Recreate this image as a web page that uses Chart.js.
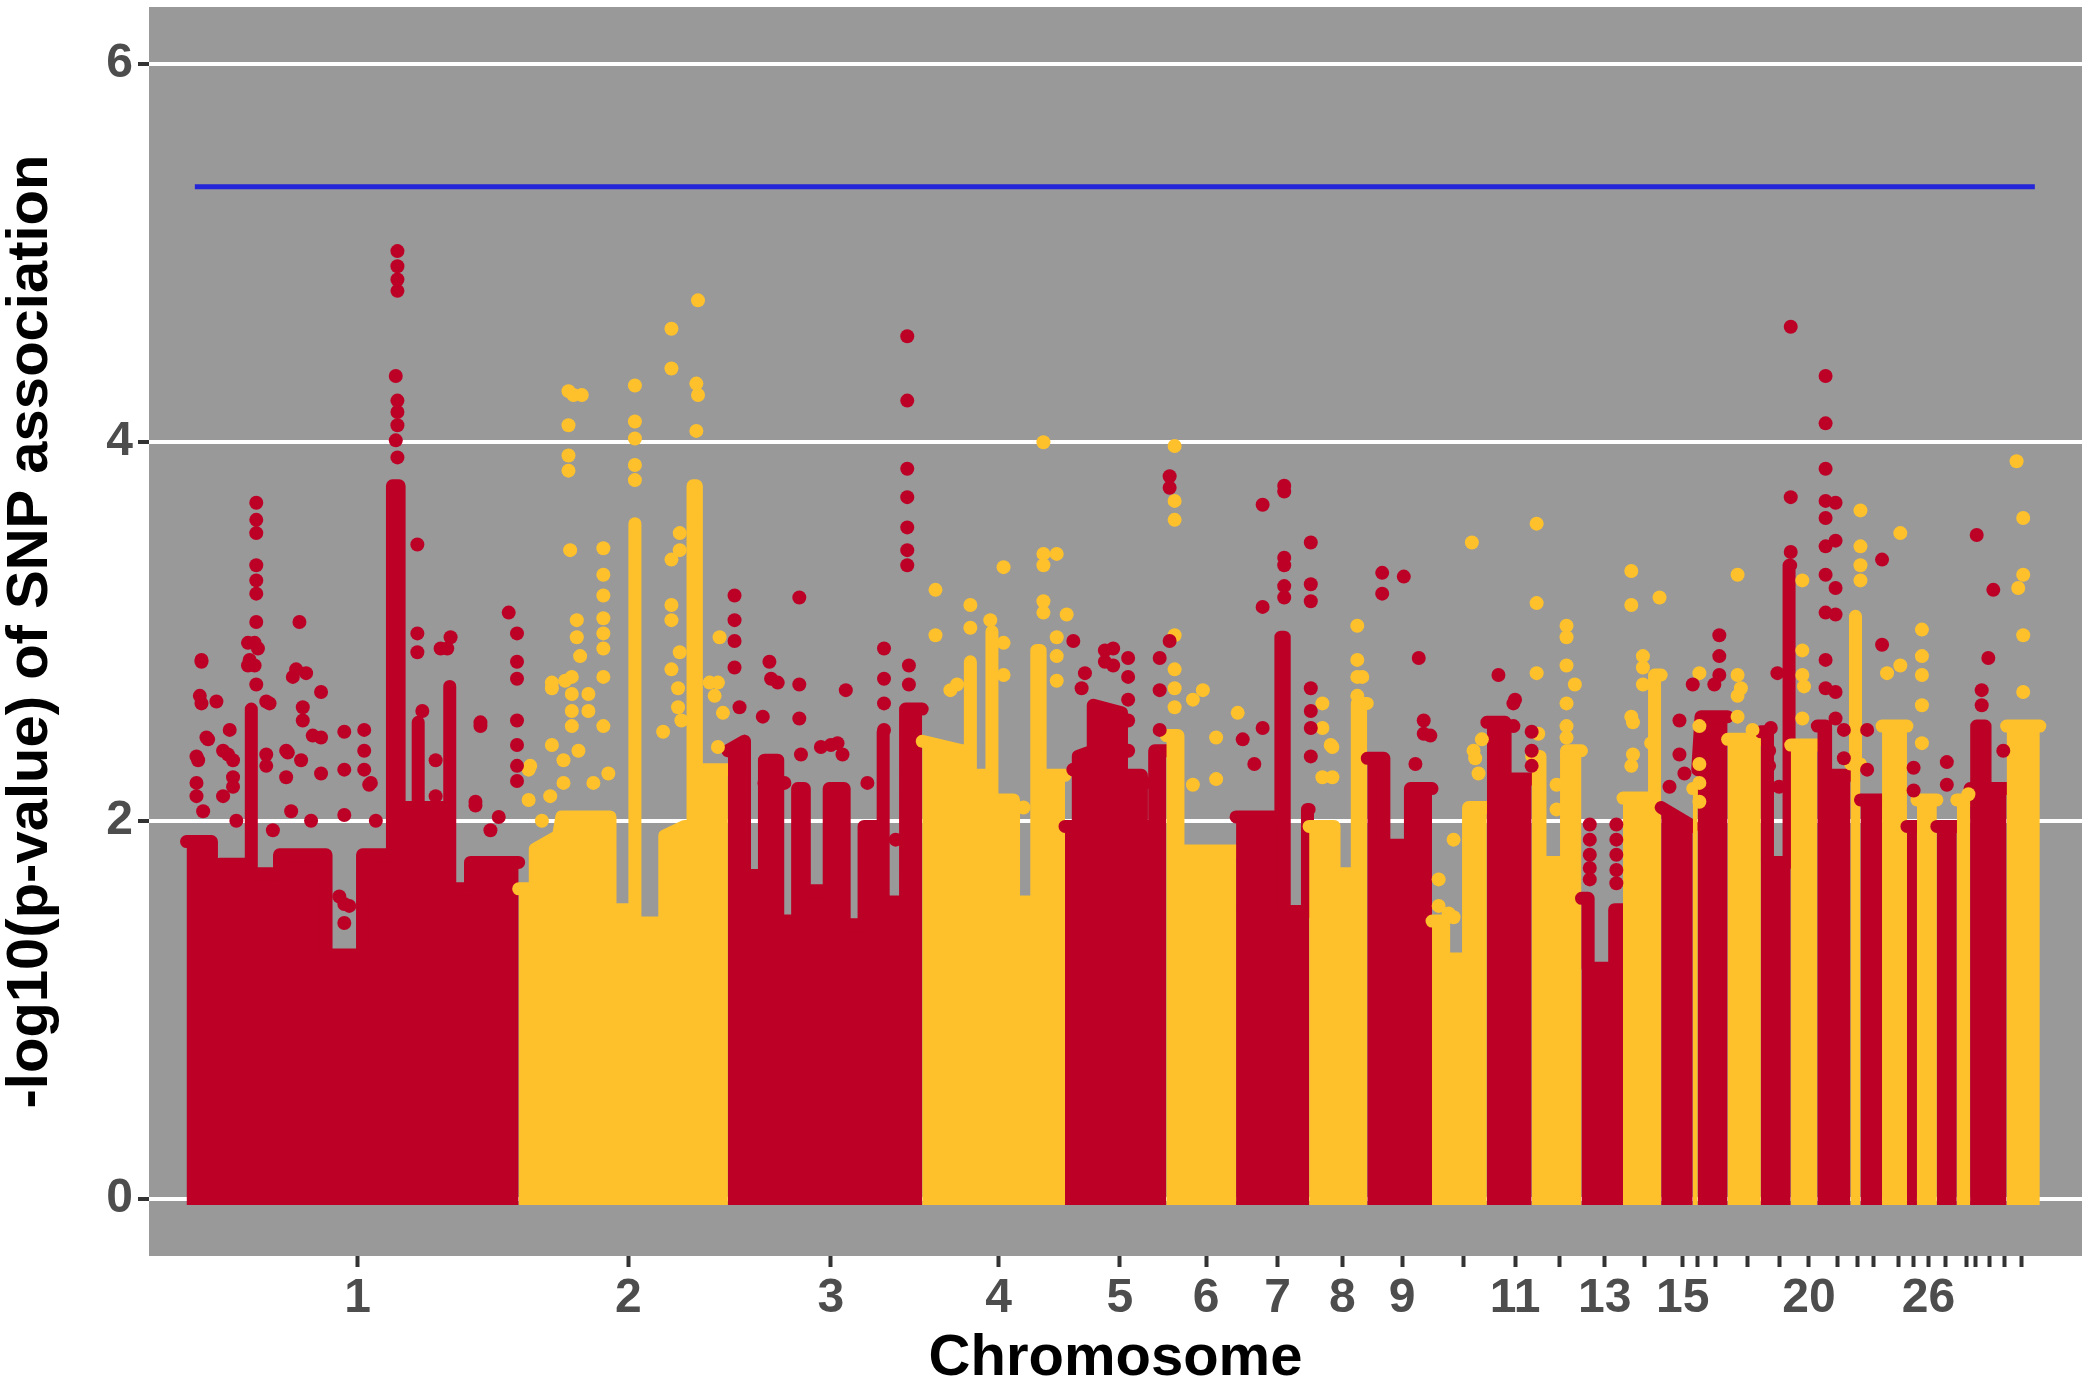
<!DOCTYPE html>
<html>
<head>
<meta charset="utf-8">
<script src="https://cdn.jsdelivr.net/npm/chart.js@4/dist/chart.umd.min.js"></script>
<style>
  html, body { margin: 0; padding: 0; background: #fff; }
  canvas { display: block; }
</style>
</head>
<body>
<canvas id="manhattan" width="2089" height="1386"></canvas>
<script>
// Manhattan plot, -log10(p) per SNP along the genome (x in cumulative Mb)

const RED = '#BD0026';
const YELLOW = '#FEC12C';
const PANEL_BG = '#999999';
const TICK_TEXT = '#4d4d4d';
const FONT = "'Liberation Sans', Arial, Helvetica, sans-serif";

const xRange = [-22.6, 1141.4];
const yRange = [-0.3, 6.3];
const yTicks = [0, 2, 4, 6];

// chromosome ticks (centres) and the labels that are printed
const tickPositions = [103, 266, 388, 489, 562, 614, 657, 696, 732, 769, 800, 827, 854, 878, 901, 910,
  921, 940, 959, 977, 994, 1006, 1016, 1031, 1040, 1049, 1059, 1072, 1077, 1086, 1095, 1105];
const tickLabels = ['1', '2', '3', '4', '5', '6', '7', '8', '9', '', '11', '', '13', '', '15', '',
  '', '', '', '20', '', '', '', '', '', '26', '', '', '', '', '', ''];

// genome-wide significance line
const threshold = 5.35;
const thresholdSpan = [5, 1113];

// top of the dense SNP cloud for each chromosome block (dot centres), [position, -log10 p]
const denseTop = [
  [[0,1.89],[15,1.89],[15,1.64],[20,1.64],[20,1.77],[39,1.77],[39,2.59],[39,1.72],[56,1.72],[56,1.82],[84,1.82],[84,1.29],[106,1.29],[106,1.82],[124,1.82],[124,3.77],[128,3.77],[128,2.07],[139.5,2.07],[139.5,2.52],[139.5,2.07],[158.5,2.07],[158.5,2.71],[158.5,1.64],[171,1.64],[171,1.78],[200,1.78]],
  [[200,1.64],[210,1.64],[210,1.85],[224,1.92],[226,2.02],[255,2.02],[255,1.53],[270,1.53],[270,3.57],[270,1.46],[288,1.46],[288,1.92],[300,1.97],[305,1.97],[305,3.77],[307,3.77],[307,2.27],[326,2.27]],
  [[326,2.37],[336,2.42],[336,1.71],[348,1.71],[348,2.32],[356,2.32],[356,1.47],[368,1.47],[368,2.17],[372,2.17],[372,1.63],[387,1.63],[387,2.17],[396,2.17],[396,1.45],[408,1.45],[408,1.97],[419.5,1.97],[419.5,2.47],[419.5,1.57],[433,1.57],[433,2.59],[443,2.59]],
  [[443,2.42],[467,2.37],[472,2.37],[472,2.84],[472,2.24],[485,2.24],[485,3.0],[485,2.11],[498,2.11],[498,1.57],[512,1.57],[512,2.9],[514,2.9],[514,2.24],[529,2.24]],
  [[529,1.97],[537,1.97],[537,2.34],[546,2.37],[546,2.61],[563,2.57],[563,2.24],[575,2.24],[575,1.97],[583,1.97],[583,2.37],[590,2.37]],
  [[590,2.45],[597,2.45],[597,1.84],[632,1.84]],
  [[632,2.02],[659,2.02],[659,2.97],[661,2.97],[661,1.52],[675,1.52],[675,2.06],[676,2.06]],
  [[676,1.97],[691,1.97],[691,1.72],[705,1.72],[705,2.62],[711,2.62]],
  [[711,2.33],[721,2.33],[721,1.87],[737,1.87],[737,2.17],[750,2.17]],
  [[750,1.47],[757,1.47],[757,1.27],[772,1.27],[772,2.07],[783,2.07]],
  [[783,2.52],[794,2.52],[794,2.22],[810,2.22]],
  [[810,2.34],[815,2.34],[815,1.78],[831,1.78],[831,2.37],[840,2.37]],
  [[840,1.59],[844,1.59],[844,1.22],[860,1.22],[860,1.53],[865,1.53]],
  [[865,2.12],[884,2.12],[884,2.77],[888,2.77]],
  [[888,2.07],[907,1.97]],
  [[907,2.17],[910,2.17]],
  [[910,2.27],[912,2.55],[928,2.55]],
  [[928,2.43],[948,2.43]],
  [[948,2.47],[952,2.47],[952,1.78],[965,1.78],[965,3.35],[966,3.35]],
  [[966,2.4],[982,2.4]],
  [[982,2.5],[987,2.5],[987,2.24],[1002,2.24]],
  [[1002,2.3],[1005,2.3],[1005,3.08],[1005,2.3],[1008,2.3]],
  [[1008,2.11],[1021,2.11]],
  [[1021,2.5],[1036,2.5]],
  [[1036,1.97],[1042,1.97]],
  [[1042,2.11],[1054,2.11]],
  [[1054,1.97],[1066,1.97]],
  [[1066,2.11],[1074,2.11]],
  [[1074,2.17],[1078,2.17],[1078,2.5],[1083,2.5],[1083,2.17],[1096,2.17]],
  [[1096,2.5],[1116,2.5]],
];

// single SNPs standing out above the cloud
const redHits = [
  [127,5.01],[127,4.93],[127,4.86],[127,4.80],[126,4.35],[127,4.22],[127,4.16],[127,4.09],[126,4.01],[127,3.92],
  [42,3.68],[42,3.59],[42,3.52],[42,3.35],[42,3.27],[42,3.2],[42,3.05],[41,2.94],[43,2.91],[41,2.82],[42,2.72],
  [9,2.84],[8,2.66],[9,2.62],[18,2.63],[13,2.43],[7,2.32],[26,2.48],[25,2.35],[37,2.94],[37,2.82],[50,2.62],[48,2.35],
  [68,3.05],[64,2.76],[72,2.78],[70,2.6],[70,2.53],[81,2.68],[76,2.45],[61,2.36],
  [95,2.47],[95,2.27],[95,2.03],[107,2.48],[107,2.37],[107,2.27],[110,2.19],[92,1.6],[98,1.55],
  [139,3.46],[139,2.99],[139,2.89],[153,2.91],[159,2.97],[157,2.91],
  [177,2.5],[174,2.08],[194,3.1],[199,2.99],[199,2.84],[199,2.75],[199,2.53],[199,2.4],[199,2.29],[199,2.21],
  [9,2.85],[12,2.44],[6,2.34],[6,2.2],[6,2.13],[22,2.37],[22,2.13],[28,2.32],[28,2.23],[28,2.18],[38,2.85],
  [48,2.63],[48,2.29],[60,2.37],[60,2.23],[66,2.8],[69,2.32],[81,2.44],[81,2.25],[95,1.56],[95,1.46],[111,2.2],
  [150,2.32],[150,2.13],[174,2.1],[177,2.52],[142,2.58],[10,2.05],[30,2.0],[52,1.95],[63,2.05],[75,2.0],
  [114,2.0],[183,1.95],[188,2.02],
  [434,4.56],[434,4.22],[434,3.86],[434,3.71],[434,3.55],[434,3.43],[434,3.35],
  [330,3.19],[330,3.06],[330,2.95],[330,2.81],[369,3.18],[369,2.72],[369,2.54],[351,2.84],[352,2.75],[356,2.73],
  [397,2.69],[382,2.39],[392,2.41],[420,2.91],[420,2.75],[420,2.62],[420,2.48],[435,2.82],[435,2.72],[347,2.55],[360,2.2],
  [333,2.6],[348,2.2],[370,2.35],[388,2.4],[395,2.35],[410,2.2],[427,1.9],
  [534,2.95],[534,2.27],[541,2.78],[539,2.7],[553,2.9],[553,2.84],[558,2.91],[558,2.82],[567,2.86],[567,2.76],
  [567,2.64],[567,2.53],[567,2.37],[577,2.2],[586,2.86],[586,2.69],[586,2.48],[592,3.82],[592,3.76],[592,2.95],
  [661,3.77],[661,3.74],[661,3.39],[661,3.35],[661,3.24],[661,3.18],[648,3.67],[648,3.13],[677,3.47],[677,3.25],
  [677,3.16],[677,2.7],[677,2.58],[677,2.49],[636,2.43],[648,2.49],[643,2.3],[677,2.34],
  [720,3.31],[720,3.2],[733,3.29],[742,2.86],[745,2.53],[749,2.45],[716,2.32],[740,2.3],[745,2.46],
  [790,2.77],[799,2.62],[799,2.5],[810,2.47],[810,2.37],[810,2.29],[800,2.64],
  [845,1.98],[845,1.9],[845,1.82],[845,1.75],[845,1.69],[861,1.98],[861,1.82],[861,1.74],[861,1.67],[861,1.9],
  [899,2.53],[899,2.35],[907,2.72],[902,2.25],[893,2.18],
  [923,2.98],[923,2.87],[923,2.77],[920,2.72],
  [966,4.61],[966,3.71],[966,3.42],[954,2.49],[958,2.78],[953,2.37],[953,2.29],[953,2.18],[959,2.18],
  [987,4.35],[987,4.1],[987,3.86],[987,3.69],[987,3.6],[987,3.45],[987,3.3],[987,3.1],[987,2.85],[987,2.7],
  [993,3.68],[993,3.48],[993,3.23],[993,3.09],[993,2.68],[993,2.54],[998,2.48],[998,2.33],
  [1021,3.38],[1021,2.93],[1012,2.48],[1012,2.27],
  [1040,2.28],[1040,2.16],[1060,2.31],[1060,2.19],
  [1078,3.51],[1088,3.22],[1085,2.86],[1081,2.69],[1081,2.61],[1094,2.37],
];

const yellowHits = [
  [230,4.27],[233,4.25],[230,4.09],[230,3.93],[230,3.85],[238,4.25],[231,3.43],[251,3.44],[251,3.3],[251,3.19],
  [251,3.07],[251,2.99],[251,2.91],[251,2.76],[235,3.06],[235,2.97],[237,2.87],[228,2.74],[220,2.7],[220,2.4],[206,2.27],[206,2.11],
  [207,2.29],[220,2.73],[232,2.76],[232,2.67],[232,2.58],[232,2.5],[242,2.67],[242,2.58],[251,2.5],[219,2.13],
  [227,2.32],[227,2.2],[236,2.37],[214,2.0],[245,2.2],[254,2.25],
  [270,4.3],[270,4.11],[270,4.02],[270,3.88],[270,3.8],
  [292,4.6],[292,4.39],[308,4.75],[307,4.31],[308,4.25],[307,4.06],[297,3.52],[297,3.43],[292,3.38],[292,3.14],
  [292,3.06],[292,2.8],[297,2.89],[321,2.97],[315,2.73],[318,2.66],[287,2.47],[323,2.57],[298,2.53],
  [296,2.7],[296,2.6],[320,2.39],[320,2.73],
  [516,4.0],[516,3.41],[516,3.35],[516,3.16],[516,3.1],[524,3.41],[492,3.34],[451,3.22],[451,2.98],[472,3.14],
  [472,3.02],[530,3.09],[492,2.94],[492,2.77],[484,3.06],[460,2.69],[464,2.72],[524,2.97],[524,2.87],[524,2.74],[504,2.07],
  [595,3.98],[595,3.69],[595,3.59],[595,2.98],[595,2.8],[595,2.7],[595,2.6],[606,2.64],[606,2.19],[612,2.69],[620,2.44],[620,2.22],[633,2.57],
  [705,3.03],[705,2.85],[705,2.76],[705,2.66],[684,2.62],[684,2.49],[690,2.39],[690,2.23],[708,2.76],[684,2.23],[689,2.4],
  [774,3.47],[754,1.69],[763,1.9],[763,1.49],[776,2.33],[778,2.25],[780,2.43],[754,1.55],[760,1.51],[775,2.37],
  [813,3.57],[813,3.15],[813,2.78],[831,3.03],[831,2.97],[831,2.82],[831,2.62],[831,2.5],[836,2.72],[825,2.19],[825,2.06],
  [814,2.46],[831,2.44],
  [870,3.32],[870,3.14],[877,2.87],[877,2.81],[877,2.72],[887,3.18],[871,2.52],[871,2.35],[882,2.41],[870,2.55],[870,2.29],
  [911,2.78],[911,2.5],[911,2.3],[911,2.2],[911,2.1],
  [934,3.3],[934,2.77],[934,2.66],[943,2.48],[936,2.7],[934,2.55],
  [973,3.27],[973,2.9],[973,2.77],[973,2.54],[974,2.71],
  [1008,3.64],[1008,3.45],[1008,3.35],[1008,3.27],
  [1032,3.52],[1032,2.82],[1024,2.78],
  [1045,3.01],[1045,2.87],[1045,2.77],[1045,2.61],[1045,2.41],
  [1073,2.14],
  [1102,3.9],[1106,3.6],[1106,3.3],[1106,2.98],[1103,3.23],[1106,2.68],
];

const toXY = arr => arr.map(([x, y]) => ({ x, y }));

const panelBackground = {
  id: 'panelBackground',
  beforeDraw(chart) {
    const { ctx, chartArea: a } = chart;
    ctx.save();
    ctx.fillStyle = PANEL_BG;
    ctx.fillRect(a.left, a.top, a.right - a.left, a.bottom - a.top);
    ctx.restore();
  },
};

// each block: outline stroked as wide as one SNP dot, filled down to the baseline
const bandSets = denseTop.map((pts, i) => {
  const col = i % 2 === 0 ? RED : YELLOW;
  return {
    data: toXY(pts),
    showLine: true,
    fill: { value: -0.03 },
    backgroundColor: col,
    borderColor: col,
    borderWidth: 13,
    borderJoinStyle: 'round',
    borderCapStyle: 'round',
    pointRadius: 0,
    tension: 0,
    order: 1000 - i,
  };
});

const hitSet = (pts, col) => ({
  data: toXY(pts),
  backgroundColor: col,
  pointBorderWidth: 0,
  pointRadius: 7,
  pointHoverRadius: 7,
  order: 10,
});

new Chart(document.getElementById('manhattan'), {
  type: 'scatter',
  data: {
    datasets: [
      ...bandSets,
      hitSet(redHits, RED),
      hitSet(yellowHits, YELLOW),
      {
        data: thresholdSpan.map(x => ({ x, y: threshold })),
        showLine: true,
        borderColor: '#2424d8',
        borderWidth: 5,
        pointRadius: 0,
        fill: false,
        order: 0,
      },
    ],
  },
  options: {
    responsive: false,
    animation: false,
    devicePixelRatio: 1,
    events: [],
    layout: { padding: { top: 7, right: 0, bottom: 0, left: 0 } },
    plugins: { legend: { display: false }, tooltip: { enabled: false } },
    scales: {
      x: {
        type: 'linear',
        min: xRange[0], max: xRange[1],
        afterBuildTicks: s => { s.ticks = tickPositions.map(v => ({ value: v })); },
        afterFit: s => { s.height = 130; s.paddingLeft = 0; s.paddingRight = 0; },
        ticks: {
          autoSkip: false, maxRotation: 0, minRotation: 0,
          callback: (v, i) => tickLabels[i],
          color: TICK_TEXT, padding: 3,
          font: { family: FONT, size: 48, weight: 'bold' },
        },
        grid: { drawOnChartArea: false, drawTicks: true, tickLength: 11, tickColor: '#333333', tickWidth: 4 },
        border: { display: false },
        title: {
          display: true, text: 'Chromosome', color: '#000',
          font: { family: FONT, size: 58, weight: 'bold', lineHeight: 0.9 },
          padding: { top: 0, bottom: 1 },
        },
      },
      y: {
        type: 'linear',
        min: yRange[0], max: yRange[1],
        afterBuildTicks: s => { s.ticks = yTicks.map(v => ({ value: v })); },
        afterFit: s => { s.width = 149; s.paddingTop = 0; s.paddingBottom = 0; },
        ticks: {
          color: TICK_TEXT, padding: 5,
          font: { family: FONT, size: 48, weight: 'bold' },
        },
        grid: { color: '#ffffff', lineWidth: 4, drawTicks: true, tickLength: 11, tickColor: '#333333', tickWidth: 4 },
        border: { display: false },
        title: {
          display: true, text: '-log10(p-value) of SNP association', color: '#000',
          font: { family: FONT, size: 58, weight: 'bold', lineHeight: 1 },
          padding: { top: 2, bottom: 0 },
        },
      },
    },
  },
  plugins: [panelBackground],
});
</script>
</body>
</html>
